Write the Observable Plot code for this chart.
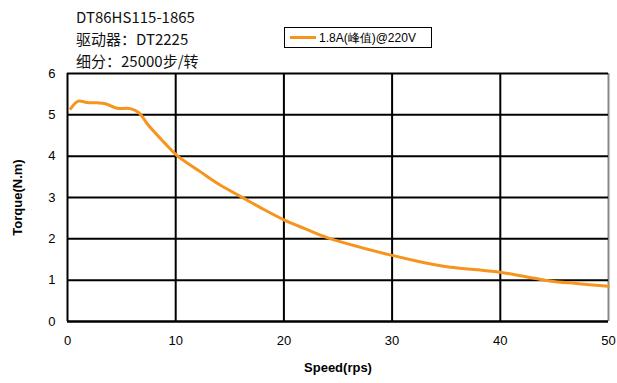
<!DOCTYPE html>
<html><head><meta charset="utf-8">
<script src="https://cdn.jsdelivr.net/npm/d3@7"></script>
<script src="https://cdn.jsdelivr.net/npm/@observablehq/plot@0.6"></script>
<style>
body{margin:0;background:#fff;font-family:"Liberation Sans",Arial,sans-serif;}
#wrap{position:relative;width:617px;height:383px;}
.t{position:absolute;font-family:"Noto Sans CJK SC","Liberation Sans",sans-serif;font-size:15px;color:#111;white-space:nowrap;}
#legend{position:absolute;left:284px;top:27px;width:146px;height:19px;border:1.5px solid #000;background:#fff;}
</style></head>
<body><div id="wrap"></div>
<script>
const titleLines = ["DT86HS115-1865", "驱动器：DT2225", "细分：25000步/转"];
const seriesName = "1.8A(峰值)@220V";
const speed  = [0.3, 1.0, 1.8, 2.7, 3.5, 4.6, 5.8, 6.6, 7.5, 8.9, 10.1, 12.3, 14.0, 16.1, 18.0, 20.0, 22.0, 24.0, 27.0, 30.0, 33.0, 35.4, 38.0, 40.0, 42.0, 44.6, 47.0, 50.0];
const torque = [5.15, 5.33, 5.30, 5.29, 5.27, 5.16, 5.15, 5.05, 4.74, 4.34, 4.02, 3.62, 3.32, 3.01, 2.73, 2.46, 2.24, 2.03, 1.80, 1.60, 1.42, 1.31, 1.25, 1.19, 1.10, 0.98, 0.92, 0.855];
const xTicks = [0, 10, 20, 30, 40, 50];
const yTicks = [0, 1, 2, 3, 4, 5, 6];
const data = speed.map((s, i) => ({speed: s, torque: torque[i]}));
const orange = "#F7941D";

const chart = Plot.plot({
  width: 617, height: 383,
  marginLeft: 67, marginRight: 9, marginTop: 73, marginBottom: 62,
  style: {fontFamily: "'Liberation Sans', Arial, sans-serif", fontSize: "13px", color: "#000", background: "#fff"},
  x: {domain: [0, 50], ticks: xTicks},
  y: {domain: [0, 6], ticks: yTicks},
  marks: [
    Plot.ruleX(xTicks.filter(d => d > 0 && d < 50), {stroke: "#000", strokeWidth: 2}),
    Plot.ruleX([50], {stroke: "#888", strokeWidth: 2}),
    Plot.ruleY(yTicks.filter(d => d > 0), {stroke: "#000", strokeWidth: 2}),
    Plot.ruleX([0], {stroke: "#000", strokeWidth: 2}),
    Plot.ruleY([0], {stroke: "#000", strokeWidth: 2.5}),
    Plot.line(data, {x: "speed", y: "torque", stroke: orange, strokeWidth: 3, curve: "catmull-rom"}),
    Plot.axisX({ticks: xTicks, tickFormat: d => String(d), tickSize: 0, tickPadding: 14, fontSize: 13, label: "Speed(rps)", labelAnchor: "center", labelArrow: "none", labelOffset: 50}),
    Plot.axisY({ticks: yTicks, tickFormat: d => String(d), tickSize: 0, tickPadding: 12, fontSize: 13, label: "Torque(N.m)", labelAnchor: "center", labelArrow: "none", labelOffset: 55})
  ]
});
chart.querySelectorAll("g[aria-label='x-axis label'] text, g[aria-label='y-axis label'] text").forEach(t => {t.setAttribute("font-weight", "bold"); t.setAttribute("font-size", "13");});
const wrap = document.getElementById("wrap");
wrap.appendChild(chart);

const tops = [6, 28, 50];
titleLines.forEach((s, i) => {
  const d = document.createElement("div");
  d.className = "t"; d.textContent = s;
  d.style.left = "76px"; d.style.top = tops[i] + "px";
  wrap.appendChild(d);
});
const lg = document.createElement("div");
lg.id = "legend";
lg.innerHTML = `<svg width="146" height="19" style="position:absolute;left:0;top:0"><line x1="5" x2="31" y1="9.5" y2="9.5" stroke="${orange}" stroke-width="3"/><text x="34" y="14" font-size="12" font-family="Liberation Sans, Arial, sans-serif">${seriesName}</text></svg>`;
wrap.appendChild(lg);
</script></body></html>
